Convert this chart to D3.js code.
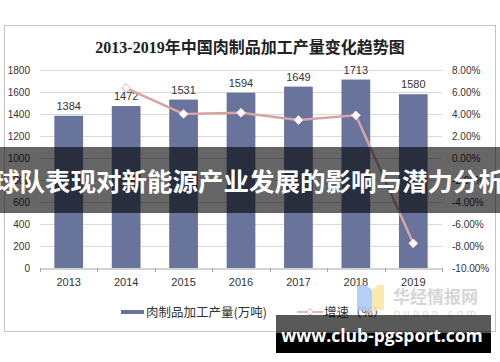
<!DOCTYPE html>
<html>
<head>
<meta charset="utf-8">
<script src="https://cdn.jsdelivr.net/npm/d3@7"></script>
<style>
body{margin:0;background:#fff;}
svg{display:block;}
text{font-family:"Liberation Sans",Arial,"Noto Sans CJK SC",sans-serif;}
</style>
</head>
<body>
<svg id="canvas" width="500" height="362"></svg>
<script>
// chart data
years=["2013","2014","2015","2016","2017","2018","2019"];
output=[1384,1472,1531,1594,1649,1713,1580];      // 万吨
growth=[null,6.36,4.01,4.11,3.45,3.88,-7.76];      // %
leftTicks=[0,200,400,600,800,1000,1200,1400,1600,1800];
rightTicks=[-10,-8,-6,-4,-2,0,2,4,6,8];

TITLE="2013-2019年中国肉制品加工产量变化趋势图";
LEGEND_BAR="肉制品加工产量(万吨)";
LEGEND_LINE="增速（%）";
BANNER="球队表现对新能源产业发展的影响与潜力分析";
SITE="www.club-pgsport.com";

BAR_COLOR="#68749b";
LINE_COLOR="#d6a4a4";

var svg=d3.select("#canvas");

// outer frame
svg.append("rect")
    .attr("x",4.5).attr("y",25.5).attr("width",491).attr("height",306)
    .attr("fill","#fff").attr("stroke","#c4c4c4");

svg.append("text")
    .attr("x",250).attr("y",53)
    .attr("text-anchor","middle")
    .style("font-family",'"Liberation Serif","Noto Sans CJK SC",serif')
    .style("font-size","16px").style("font-weight","bold")
    .attr("fill","#222")
    .text(TITLE);

var x=d3.scaleBand().domain(years).range([40,442]).paddingInner(0.5).paddingOuter(0.25);
var yL=d3.scaleLinear().domain([0,1800]).range([268,70]);
var yR=d3.scaleLinear().domain([-10,8]).range([268,70]);

// gridlines
svg.append("g").selectAll("line")
    .data(leftTicks.slice(1))
    .enter().append("line")
    .attr("x1",40).attr("x2",442)
    .attr("y1",d=>yL(d)+0.5).attr("y2",d=>yL(d)+0.5)
    .attr("stroke","#d9d9d9");

// left axis
var gl=svg.append("g").attr("transform","translate(40,0)")
    .call(d3.axisLeft(yL).tickValues(leftTicks).tickSize(0).tickPadding(10).tickFormat(d3.format("d")));
gl.select(".domain").remove();
gl.selectAll("text").style("font-size","10px").attr("fill","#333").style("font-family",'"Liberation Sans",Arial,sans-serif');

// right axis
var gr=svg.append("g").attr("transform","translate(442,0)")
    .call(d3.axisRight(yR).tickValues(rightTicks).tickSize(0).tickPadding(10)
        .tickFormat(d=>d.toFixed(2)+"%"));
gr.select(".domain").remove();
gr.selectAll("text").style("font-size","10px").attr("fill","#333").style("font-family",'"Liberation Sans",Arial,sans-serif');

// bars
svg.append("g").selectAll("rect")
    .data(output)
    .enter().append("rect")
    .attr("x",(d,i)=>x(years[i]))
    .attr("y",d=>yL(d))
    .attr("width",x.bandwidth())
    .attr("height",d=>yL(0)-yL(d))
    .attr("fill",BAR_COLOR);

// bottom axis
var gb=svg.append("g").attr("transform","translate(0,268.5)")
    .call(d3.axisBottom(x).tickSize(0).tickPadding(10));
gb.select(".domain").attr("stroke","#a6a6a6");
gb.selectAll("text").style("font-size","11px").attr("fill","#333").style("font-family",'"Liberation Sans",Arial,sans-serif');
svg.append("g").selectAll("line")
    .data(d3.range(years.length+1))
    .enter().append("line")
    .attr("x1",i=>Math.round(40+x.step()*i)+0.5)
    .attr("x2",i=>Math.round(40+x.step()*i)+0.5)
    .attr("y1",268).attr("y2",272)
    .attr("stroke","#a6a6a6");

// bar value labels
svg.append("g").selectAll("text")
    .data(output)
    .enter().append("text")
    .attr("x",(d,i)=>x(years[i])+x.bandwidth()/2)
    .attr("y",d=>yL(d)-6)
    .attr("text-anchor","middle")
    .style("font-size","11px").attr("fill","#333")
    .text(d=>d);

// growth line
var pts=growth.map((g,i)=>({year:years[i],g:g})).filter(d=>d.g!==null);
var line=d3.line().x(d=>x(d.year)+x.bandwidth()/2).y(d=>yR(d.g));
svg.append("path")
    .attr("d",line(pts))
    .attr("fill","none")
    .attr("stroke",LINE_COLOR)
    .attr("stroke-width",2.5);

var diamond=d3.symbol().type(d3.symbolDiamond2).size(50);
svg.append("g").selectAll("path")
    .data(pts)
    .enter().append("path")
    .attr("d",diamond)
    .attr("transform",d=>"translate("+(x(d.year)+x.bandwidth()/2)+","+yR(d.g)+")")
    .attr("fill","#fff")
    .attr("stroke",(d,i)=>i==0?"#e3a9a9":"#f2dada")
    .attr("stroke-width",1);

// legend
svg.append("rect").attr("x",121).attr("y",310).attr("width",23).attr("height",4).attr("fill",BAR_COLOR);
svg.append("text").attr("x",146).attr("y",316.5)
    .style("font-family",'"Noto Sans CJK SC",sans-serif')
    .style("font-size","12.5px").attr("fill","#333").text(LEGEND_BAR);
svg.append("line").attr("x1",297).attr("x2",323).attr("y1",312).attr("y2",312)
    .attr("stroke",LINE_COLOR).attr("stroke-width",1.5);
svg.append("path").attr("d",d3.symbol().type(d3.symbolDiamond2).size(30))
    .attr("transform","translate(310,312)")
    .attr("fill","#fff").attr("stroke",LINE_COLOR);
svg.append("text").attr("x",324).attr("y",316.5)
    .style("font-family",'"Noto Sans CJK SC",sans-serif')
    .style("font-size","12.5px").attr("fill","#333").text(LEGEND_LINE);

// source watermark
var wm=svg.append("g").attr("opacity",0.85);
wm.append("path").attr("d","M357,286 Q364,282 372,290 L372,314 Q364,308 357,312 Z").attr("fill","#a9c8f4");
wm.append("path").attr("d","M372,290 Q377,284 384,285 L384,310 Q377,309 372,314 Z").attr("fill","#fbe7a1");
wm.append("text").attr("x",393).attr("y",303)
    .style("font-family",'"Noto Sans CJK SC",sans-serif').style("font-weight","bold")
    .style("font-size","17px").attr("fill","#cfcfcf").text("华经情报网");
wm.append("text").attr("x",394).attr("y",317)
    .style("font-size","11px").style("letter-spacing","3.4px").attr("fill","#d8d8d8").text("huaon.com");

// banner overlay
svg.append("rect").attr("x",0).attr("y",147).attr("width",500).attr("height",66)
    .attr("fill","rgba(0,0,0,0.6)");
svg.append("text").attr("x",249).attr("y",191)
    .attr("text-anchor","middle")
    .style("font-family",'"Noto Sans CJK SC",sans-serif').style("font-weight","bold")
    .style("font-size","25.5px").attr("fill","#fff").text(BANNER);

// site box
svg.append("rect").attr("x",276).attr("y",315).attr("width",215).attr("height",18).attr("fill","rgba(0,0,0,0.65)");
svg.append("rect").attr("x",276).attr("y",333).attr("width",215).attr("height",20).attr("fill","#000");
svg.append("text").attr("x",382).attr("y",342)
    .attr("text-anchor","middle")
    .style("font-family",'"Open Sans","DejaVu Sans",sans-serif').style("font-weight","bold")
    .style("font-size","17.5px").attr("fill","#fff").text(SITE);
</script>
</body>
</html>
